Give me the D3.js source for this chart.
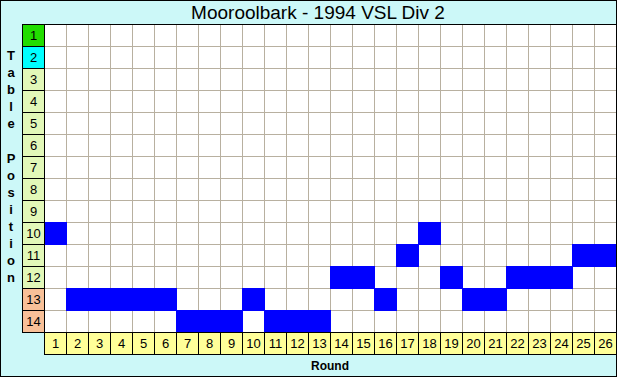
<!DOCTYPE html>
<html lang="en">
<head>
  <meta charset="UTF-8">
  <title>Mooroolbark - 1994 VSL Div 2</title>
  <script src="https://d3js.org/d3.v7.min.js"></script>
  <style>
    body { margin: 0; background: #fff; }
    svg { display: block; font-family: Arial, "Liberation Sans", sans-serif; }
    .grid { stroke: #b8b0a0; stroke-width: 1; }
    .box { stroke: #000; stroke-width: 1; }
  </style>
</head>
<body>
  <svg width="617" height="377"></svg>

  <script>
    const title = "Mooroolbark - 1994 VSL Div 2";
    const rounds = d3.range(1, 27);                 // tick labels 1..26
    const tablePositions = d3.range(1, 15);         // tick labels 1..14
    const position = [10, 13, 13, 13, 13, 13, 14, 14, 14, 13, 14, 14, 14,
                      12, 12, 13, 11, 10, 12, 13, 13, 12, 12, 12, 11, 11];
    const rowColors = ["#22dd00", "#00ffff", "#e2f8b8", "#e2f8b8", "#e2f8b8",
                       "#e2f8b8", "#e2f8b8", "#e2f8b8", "#e2f8b8", "#e2f8b8",
                       "#e2f8b8", "#e2f8b8", "#f8c098", "#f8c098"];

    const svg = d3.select("svg");
    const W = 617, H = 377;

    const x = d3.scaleBand().domain(rounds).range([44, 616]);
    const y = d3.scaleBand().domain(tablePositions).range([24, 332]);

    // background
    svg.append("rect").attr("width", W).attr("height", H).attr("fill", "#ccf8f8");

    // plot area
    svg.append("rect")
      .attr("x", 44).attr("y", 24)
      .attr("width", W - 44).attr("height", 308)
      .attr("fill", "#fff");

    // grid
    svg.selectAll(".gx").data(rounds.slice(1)).enter().append("line")
      .attr("class", "grid")
      .attr("x1", d => x(d) + 0.5).attr("x2", d => x(d) + 0.5)
      .attr("y1", 24).attr("y2", 332);
    svg.selectAll(".gy").data(tablePositions.slice(1)).enter().append("line")
      .attr("class", "grid")
      .attr("x1", 44).attr("x2", W)
      .attr("y1", d => y(d) + 0.5).attr("y2", d => y(d) + 0.5);

    // position cells
    svg.selectAll(".cell").data(rounds).enter().append("rect")
      .attr("x", d => x(d))
      .attr("y", (d, i) => y(position[i]))
      .attr("width", x.bandwidth() + 1)
      .attr("height", y.bandwidth() + 1)
      .attr("fill", "#0000ff");

    // row labels
    svg.selectAll(".rl").data(tablePositions).enter().append("rect")
      .attr("class", "box")
      .attr("x", 22.5).attr("y", d => y(d) + 0.5)
      .attr("width", 22).attr("height", y.bandwidth())
      .attr("fill", (d, i) => rowColors[i]);
    svg.selectAll(".rt").data(tablePositions).enter().append("text")
      .attr("x", 33.5).attr("y", d => y(d) + y.bandwidth() / 2 + 5)
      .attr("text-anchor", "middle")
      .attr("font-size", 13)
      .text(d => d);

    // column labels
    svg.selectAll(".cl").data(rounds).enter().append("rect")
      .attr("class", "box")
      .attr("x", d => x(d) + 0.5).attr("y", 332.5)
      .attr("width", x.bandwidth()).attr("height", 22)
      .attr("fill", "#ffff99");
    svg.selectAll(".ct").data(rounds).enter().append("text")
      .attr("x", d => x(d) + x.bandwidth() / 2 + 0.5).attr("y", 348)
      .attr("text-anchor", "middle")
      .attr("font-size", 13)
      .text(d => d);

    // top border of plot
    svg.append("line").attr("class", "box")
      .attr("x1", 22).attr("x2", W).attr("y1", 24.5).attr("y2", 24.5);

    // title
    svg.append("text")
      .attr("x", 318).attr("y", 19)
      .attr("text-anchor", "middle")
      .attr("font-size", 19)
      .text(title);

    // axis titles
    svg.append("text")
      .attr("x", 330).attr("y", 370)
      .attr("text-anchor", "middle")
      .attr("font-size", 12).attr("font-weight", "bold")
      .text("Round");

    const yLabel = "Table Position".split("");
    svg.selectAll(".yl").data(yLabel).enter().append("text")
      .attr("x", 11).attr("y", (d, i) => 60 + i * 17.1)
      .attr("text-anchor", "middle")
      .attr("font-size", 13).attr("font-weight", "bold")
      .text(d => d);

    // outer border
    svg.append("rect")
      .attr("x", 0.5).attr("y", 0.5)
      .attr("width", W - 1).attr("height", H - 1)
      .attr("fill", "none").attr("stroke", "#000");
  </script>
</body>
</html>
